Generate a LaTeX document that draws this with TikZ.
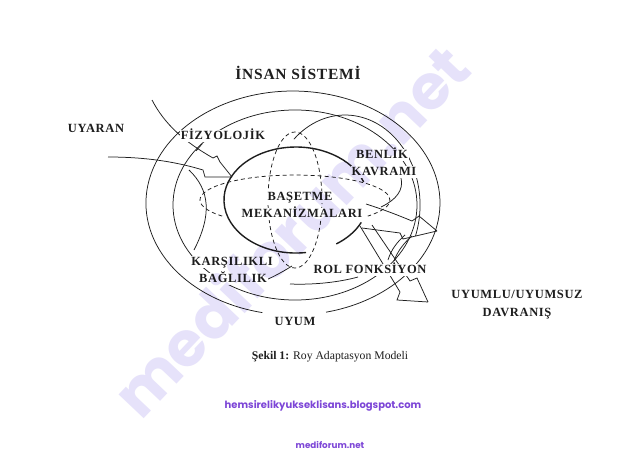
\documentclass[tikz,border=0pt]{standalone}
\usepackage{fontspec}
\setmainfont{Liberation Serif}
\newfontfamily\labfont{Liberation Serif}[LetterSpace=5]
\newfontfamily\popfont{Poppins}
\definecolor{purp}{RGB}{125,70,215}
\definecolor{wmcol}{RGB}{230,226,250}
\definecolor{ink}{RGB}{30,30,30}
\tikzset{
  lab/.style={font=\labfont\bfseries\fontsize{12.5}{13}\selectfont, text=ink, fill=white, inner sep=1pt, text height=9pt, text depth=1.5pt},
  ln/.style={line width=0.75pt, draw=ink},
  thk/.style={line width=1.4pt, draw=ink},
  dsh/.style={line width=0.75pt, draw=ink, dash pattern=on 4pt off 3pt},
  web/.style={font=\popfont\bfseries\fontsize{10}{12}\selectfont, text=purp},
}
\begin{document}
\begin{tikzpicture}[x=1pt,y=-1pt]
\useasboundingbox (0,0) rectangle (640,460);
\fill[white] (0,0) rectangle (640,460);

% outer rings
\draw[ln] (262.4,312.6) arc[start angle=102,end angle=437,x radius=147,y radius=112];
\draw[ln] (295,205) ellipse[x radius=122,y radius=95];
\draw[ln] (293.9,139.2) arc[start angle=227,end angle=380,x radius=75,y radius=90];
% mode arcs
\draw[ln] (189,170) .. controls (210,190) and (212,215) .. (194,250);
\draw[ln] (266,280) .. controls (275,276) and (284,271) .. (292,266);
\draw[ln] (290,284) .. controls (315,285) and (340,282) .. (358,277);
\draw[ln] (388,260) .. controls (391,250) and (397,242) .. (405,235);
\draw[ln] (394,261) .. controls (398,250) and (405,242) .. (412,236);
\draw[ln] (401,178) .. controls (404,190) and (396,200) .. (381,207);
% dashed flower
\draw[dsh] (295,200) ellipse[x radius=27,y radius=68];
\draw[dsh] (222.2,216.1) arc[start angle=140,end angle=400,x radius=95,y radius=25];
% central coping circle
\draw[thk] (306,252.5) arc[start angle=82,end angle=340,x radius=72,y radius=53];
\draw[thk] (361.25,222.4) arc[start angle=25,end angle=56,x radius=72,y radius=53];

% input arrows
\coordinate (tipL) at (232,177);
\draw[ln] (152,100) .. controls (165,125) and (185,142) .. (213,158) -- (217,156) -- (220,162) -- (tipL);
\draw[ln] (196,151) -- (202,144);
\draw[ln] (108,157) .. controls (150,157) and (180,163) .. (203,170) -- (205,177) -- (tipL);
% output arrows
\coordinate (tipR) at (437,231);
\draw[ln] (366,204) .. controls (385,210) and (400,216) .. (412,221) -- (419,216) -- (tipR);
\draw[ln] (362,228) -- (400,233) -- (403,239) -- (tipR);
\coordinate (tipD) at (428,302);
\draw[ln] (360,226) -- (400,292) -- (397,300) -- (tipD);
\draw[ln] (372,225) -- (410,281) -- (417,278) -- (tipD);

% labels
\node[lab, font=\labfont\bfseries\fontsize{15.5}{16}\selectfont, text height=11pt] (title) at (298,75) {İNSAN SİSTEMİ};
\node[lab] (uyaran) at (96,129) {UYARAN};
\node[lab] (fiz) at (223,136) {FİZYOLOJİK};
\node[lab] (benlik) at (382,155) {BENLİK};
\node[lab] (kavrami) at (384,172) {KAVRAMI};
\node[lab] (basetme) at (300,197) {BAŞETME};
\node[lab] (mekan) at (302,214) {MEKANİZMALARI};
\node[lab] (kars) at (232,262) {KARŞILIKLI};
\node[lab] (bag) at (233,279) {BAĞLILIK};
\node[lab] (rol) at (370,270) {ROL FONKSİYON};
\node[lab] (uyum) at (295,322) {UYUM};
\node[lab] (uyumlu) at (517,295) {UYUMLU/UYUMSUZ};
\node[lab] (davranis) at (517,313) {DAVRANIŞ};
\node[font=\fontsize{11.7}{13}\selectfont, text=ink] (caption) at (330,357) {\textbf{Şekil 1:} Roy Adaptasyon Modeli};
\node[web] (blog) at (323,406) {hemsirelikyukseklisans.blogspot.com};
\node[web, font=\popfont\bfseries\fontsize{8.8}{10}\selectfont] (site) at (330,445) {mediforum.net};

% watermark
\begin{scope}[blend mode=multiply]
\node[rotate=46.5, font=\popfont\bfseries\fontsize{62}{62}\selectfont, text=wmcol] (wm) at (290,230) {mediforum.net};
\end{scope}
\end{tikzpicture}
\end{document}
